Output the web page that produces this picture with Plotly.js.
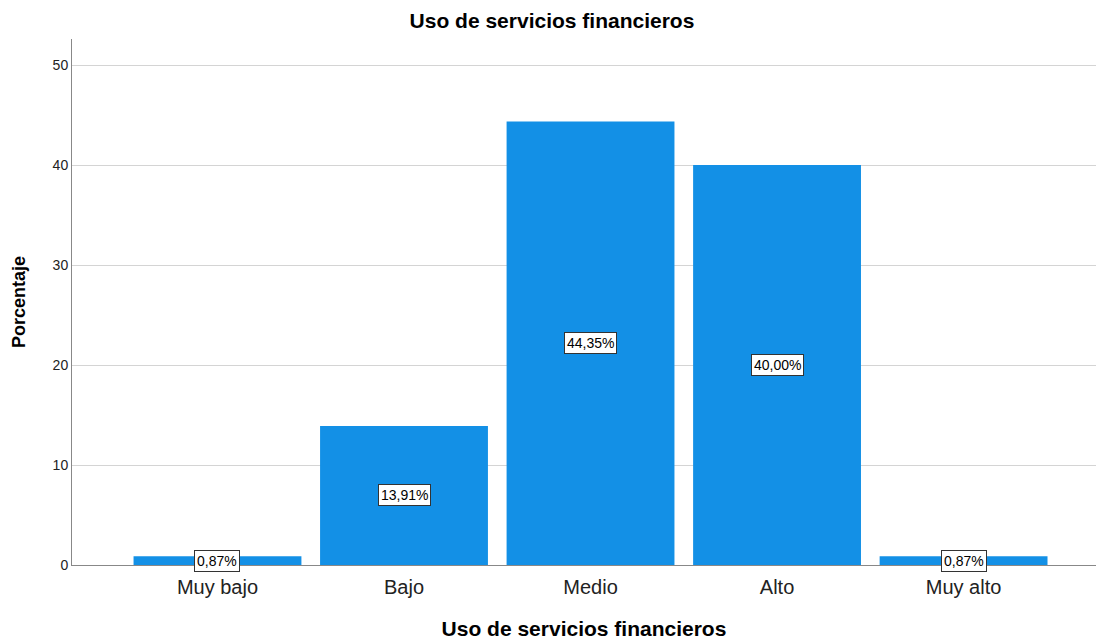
<!DOCTYPE html>
<html>
<head>
<meta charset="utf-8">
<script src="https://cdn.plot.ly/plotly-3.0.1.min.js"></script>
<style>html,body{margin:0;padding:0;background:#fff;}#chart{width:1104px;height:641px;}</style>
</head>
<body>
<div id="chart"></div>
<script>
const categories = ["Muy bajo", "Bajo", "Medio", "Alto", "Muy alto"];
const values = [0.87, 13.91, 44.35, 40.00, 0.87];
const labels = ["0,87%", "13,91%", "44,35%", "40,00%", "0,87%"];
const yTicks = [0, 10, 20, 30, 40, 50];

const idx = categories.map((c, i) => i);
const trace = {
  type: "bar",
  x: idx,
  y: values,
  marker: {color: "#1390E6", line: {width: 0}},
  hoverinfo: "skip"
};
const annotations = idx.map((i) => ({
  x: i, y: values[i] / 2, xref: "x", yref: "y",
  text: labels[i], showarrow: false,
  font: {family: "Liberation Sans, Arial, sans-serif", size: 14, color: "#000"},
  bgcolor: "#ffffff", bordercolor: "#333333", borderwidth: 1, borderpad: 2
}));
const layout = {
  width: 1104, height: 641,
  margin: {l: 72, r: 8, t: 39, b: 76},
  paper_bgcolor: "#fff", plot_bgcolor: "#fff",
  showlegend: false,
  bargap: 0.1,
  title: {text: "Uso de servicios financieros", x: 0.5, xanchor: "center", y: 0.968, yanchor: "middle",
    font: {family: "Liberation Sans, Arial, sans-serif", size: 21, color: "#000", weight: "bold"}},
  xaxis: {
    range: [-0.78, 4.71],
    tickmode: "array", tickvals: idx, ticktext: categories,
    showgrid: false, zeroline: false,
    showline: true, linecolor: "#888", linewidth: 1,
    ticks: "", ticklen: 0, ticklabelstandoff: 4,
    tickfont: {family: "Liberation Sans, Arial, sans-serif", size: 20, color: "#222"},
    title: {text: "Uso de servicios financieros", standoff: 24,
      font: {family: "Liberation Sans, Arial, sans-serif", size: 21, color: "#000", weight: "bold"}}
  },
  yaxis: {
    range: [0, 52.6],
    tickmode: "array", tickvals: yTicks,
    showgrid: true, gridcolor: "#d4d4d4", gridwidth: 1,
    zeroline: false,
    showline: true, linecolor: "#888", linewidth: 1,
    ticks: "", ticklen: 0,
    tickfont: {family: "Liberation Sans, Arial, sans-serif", size: 14, color: "#222"},
    title: {text: "Porcentaje", standoff: 22,
      font: {family: "Liberation Sans, Arial, sans-serif", size: 18, color: "#000", weight: "bold"}}
  },
  annotations: annotations
};
Plotly.newPlot("chart", [trace], layout, {displayModeBar: false, staticPlot: true});
</script>
</body>
</html>
